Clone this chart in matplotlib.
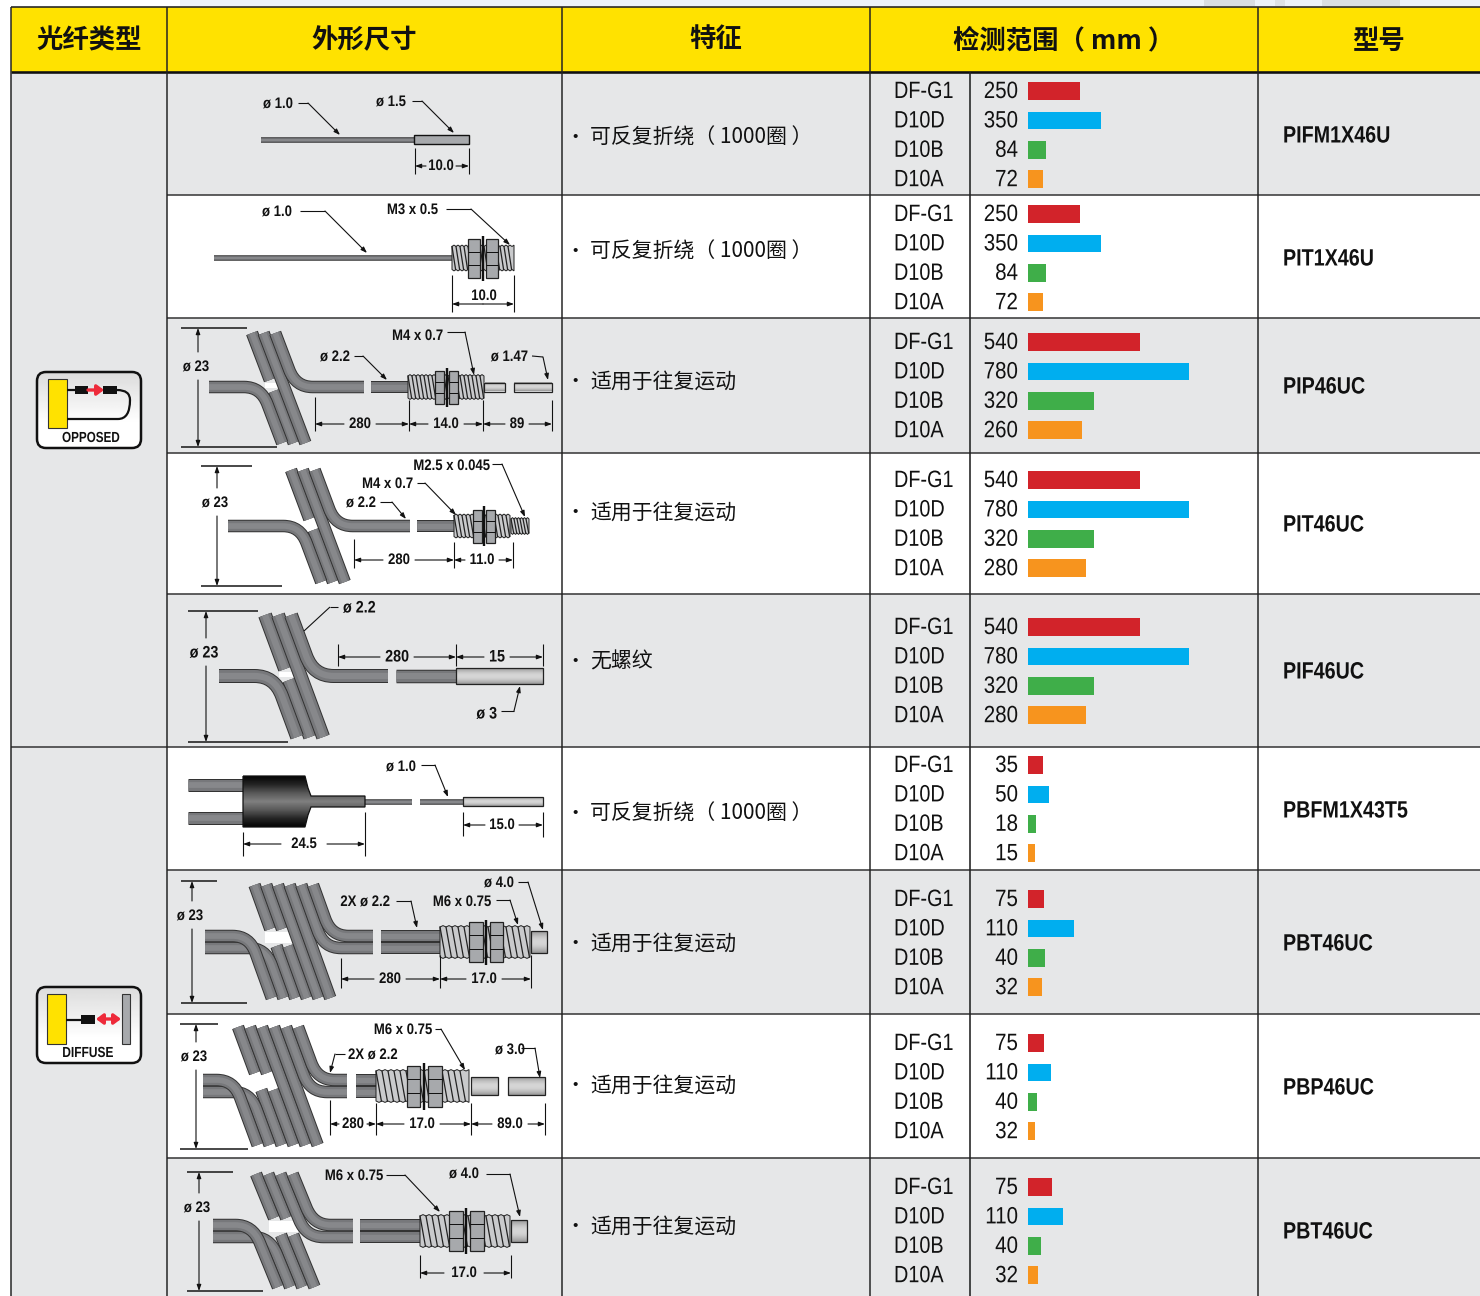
import matplotlib
matplotlib.use("Agg")
import numpy as np
from matplotlib import pyplot as plt
from matplotlib.path import Path
from matplotlib.patches import PathPatch, Rectangle, FancyBboxPatch
from matplotlib.patheffects import AbstractPathEffect
from matplotlib.transforms import Affine2D

LATIN = ['Liberation Sans', 'DejaVu Sans']
CJK = ['Noto Sans CJK SC', 'DejaVu Sans']

# table content
headers = ["光纤类型", "外形尺寸", "特征", "检测范围（ mm ）", "型号"]
lens_names = ["DF-G1", "D10D", "D10B", "D10A"]
bar_colors = ["#D2232A", "#00AEEF", "#3FAE49", "#F7941E"]
features = ["可反复折绕（ 1000圈 ）", "可反复折绕（ 1000圈 ）", "适用于往复运动", "适用于往复运动", "无螺纹",
            "可反复折绕（ 1000圈 ）", "适用于往复运动", "适用于往复运动", "适用于往复运动"]
models = ["PIFM1X46U", "PIT1X46U", "PIP46UC", "PIT46UC", "PIF46UC",
          "PBFM1X43T5", "PBT46UC", "PBP46UC", "PBT46UC"]
ranges = [[250, 350, 84, 72], [250, 350, 84, 72], [540, 780, 320, 260], [540, 780, 320, 280],
          [540, 780, 320, 280], [35, 50, 18, 15], [75, 110, 40, 32], [75, 110, 40, 32], [75, 110, 40, 32]]
# drawn bar lengths, the source scale changes from row to row
bar_lengths = [[52, 73, 18, 15], [52, 73, 18, 15], [112, 161, 66, 54], [112, 161, 66, 58],
               [112, 161, 66, 58], [15, 21, 8, 7], [16, 46, 17, 14], [16, 23, 9, 7], [24, 35, 13, 10]]

# layout, pixels
col_x = [10.5, 167, 562, 870, 970, 1258]
row_y = [72, 195, 318, 453, 594, 747, 870, 1014, 1158, 1296]
first_label_y = [91, 214, 342, 480, 627, 765, 899, 1043, 1187]
feature_y = [137, 251, 381, 512, 661, 813, 943, 1085, 1226]
model_y = [135, 258, 386, 524, 671, 810, 943, 1087, 1231]
GRAY = "#E6E7E8"
LINE = "#3c3c3c"

fig = plt.figure(figsize=(14.8, 12.96), dpi=100)
ax = fig.add_axes([0, 0, 1, 1])
ax.set_xlim(0, 1480)
ax.set_ylim(1296, 0)
ax.axis("off")


class Squeeze(AbstractPathEffect):
    # no narrow sans is installed, so the glyphs get pressed together around the anchor
    def __init__(self, x, sx):
        super().__init__()
        self.x = x
        self.sx = sx

    def draw_path(self, renderer, gc, tpath, affine, rgbFace=None):
        t = affine + Affine2D().translate(-self.x, 0).scale(self.sx, 1).translate(self.x, 0)
        renderer.draw_path(gc, tpath, t, rgbFace)


def txt(x, y, s, size=11, ha="center", bold=True, sx=0.86):
    t = ax.text(x, y + 1, s, fontsize=size, ha=ha, va="center", family=LATIN,
                fontweight="bold" if bold else "normal", color="#111111", zorder=20)
    t.set_path_effects([Squeeze(x, sx)])
    return t


def line(xs, ys, lw=1.1, color="#111111", z=15, **kw):
    ax.plot(xs, ys, color=color, lw=lw * 0.72, zorder=z, solid_capstyle="butt", **kw)


def arrow(x0, y0, x1, y1):
    ax.annotate("", xy=(x1, y1), xytext=(x0, y0), zorder=16,
                arrowprops=dict(arrowstyle="-|>,head_width=0.16,head_length=0.45", color="#111111",
                                lw=0.8, shrinkA=0, shrinkB=0, mutation_scale=8))


def leader(xs, ys):
    line(xs[:-1], ys[:-1])
    arrow(xs[-2], ys[-2], xs[-1], ys[-1])


def dim_h(x0, x1, y, s, cx=None, gap=15, size=11):
    cx = (x0 + x1) / 2 if cx is None else cx
    arrow(cx - gap, y, x0, y)
    arrow(cx + gap, y, x1, y)
    txt(cx, y - 1, s, size=size)


def ticks(xs, y0, y1):
    for x in xs:
        line([x, x], [y0, y1])


def dim_v(x, y0, y1, xa, xb, s, ty, size=11):
    line([xa, xb], [y0, y0], lw=1.5)
    line([xa, xb + 30], [y1, y1], lw=1.5)
    arrow(x, ty - 14, x, y0)
    arrow(x, ty + 14, x, y1)
    txt(x - 2, ty, s, size=size)


def stroke(verts, codes, w, colors=("#333333", "#77787b", "#87888b"), round_ends=()):
    p = Path(verts, codes)
    widths = (w, w - 2, w * 0.45)
    for c, lw in zip(colors, widths):
        ax.add_patch(PathPatch(p, fill=False, ec=c, lw=lw * 0.72, capstyle="butt", joinstyle="round", zorder=5))
        for e in round_ends:
            ax.plot([e[0], e[0] + 0.01], [e[1], e[1]], color=c, lw=lw * 0.72, solid_capstyle="round", zorder=5)


def seg(x0, y0, x1, y1, w, **kw):
    stroke([(x0, y0), (x1, y1)], [Path.MOVETO, Path.LINETO], w, **kw)


def coil(x_top, y_top, y_bot, n, pitch, slope, cables, x_left, x_right, w=12.5, bend=17):
    # slanted wound part of a fibre cable, k strands bend off to each side
    k = len(cables)

    def lx(i, y):
        return x_top + i * pitch + slope * (y - y_top)

    g0 = cables[0] - 4
    g1 = cables[0] + (1 if k == 1 else 7)
    xa = lx(0, g0) - w / 2
    xb = lx(k - 1, g1) + w / 2
    ax.add_patch(Rectangle((xa, g0), xb - xa, g1 - g0, fc="white", ec="none", zorder=4))
    for i in range(n - k):
        if i < k:
            ya, yb = g0 - 3, g1 + 3
            seg(lx(i, y_top), y_top, lx(i, ya), ya, w, round_ends=[(lx(i, y_top), y_top), (lx(i, ya), ya)])
            seg(lx(i, yb), yb, lx(i, y_bot), y_bot, w, round_ends=[(lx(i, yb), yb), (lx(i, y_bot), y_bot)])
        else:
            seg(lx(i, y_top), y_top, lx(i, y_bot), y_bot, w, round_ends=[(lx(i, y_top), y_top), (lx(i, y_bot), y_bot)])
    codes = [Path.MOVETO, Path.LINETO, Path.CURVE3, Path.CURVE3, Path.LINETO]
    for j, yc in enumerate(reversed(cables)):
        # strands coming from the left cable
        i = -(j + 1)
        corner = (lx(i, yc), yc)
        v = [(x_left, yc), (corner[0] - bend, yc), corner, (lx(i, yc + bend), yc + bend), (lx(i, y_bot), y_bot)]
        stroke(v, codes, w, round_ends=[(lx(i, y_bot), y_bot)])
    for j, yc in enumerate(reversed(cables)):
        i = n - k + j
        corner = (lx(i, yc), yc)
        v = [(lx(i, y_top), y_top), (lx(i, yc - bend), yc - bend), corner, (corner[0] + bend, yc), (x_right, yc)]
        stroke(v, codes, w, round_ends=[(lx(i, y_top), y_top)])


def cable(x0, x1, ys, w=12):
    for y in ys:
        seg(x0, y, x1, y, w)


def tube(x0, x1, y, h):
    # plain metal sleeve with a dark edge
    yy = np.linspace(0, 1, 24)[:, None]
    grad = 0.6 + 0.24 * np.sin(yy * np.pi)
    ax.imshow(grad, extent=(x0, x1, y + h / 2, y - h / 2), cmap="gray", vmin=0, vmax=1, aspect="auto", zorder=7)
    ax.add_patch(Rectangle((x0, y - h / 2), x1 - x0, h, fc="none", ec="#222222", lw=0.9, zorder=8))


def thread(x0, x1, y, h, step=5.0):
    xs = np.arange(x0, x1 + 0.1, step)
    half = np.arange(x0, x1 + 0.1, step / 2)
    top = [(x, y - h / 2 - (1.4 if i % 2 else 0)) for i, x in enumerate(half)]
    bot = [(x, y + h / 2 + (1.4 if i % 2 else 0)) for i, x in enumerate(half)]
    ax.fill([p[0] for p in top] + [p[0] for p in reversed(bot)], [p[1] for p in top] + [p[1] for p in reversed(bot)],
            fc="#C9CACC", ec="#222222", lw=0.7, zorder=7)
    for x in xs[:-1]:
        ax.plot([x, x + step * 0.9], [y - h / 2, y + h / 2], color="#222222", lw=0.9, zorder=8)


def nut(x0, x1, y, h):
    ax.add_patch(Rectangle((x0, y - h / 2), x1 - x0, h, fc="#A7A9AC", ec="#222222", lw=0.9, zorder=9))
    line([x0, x1], [y - h / 6, y - h / 6], lw=1, z=10)
    line([x0, x1], [y + h / 6, y + h / 6], lw=1, z=10)


def washer(x, y, h):
    line([x, x], [y - h / 2, y + h / 2], lw=2.4, z=11)


def fitting(xs, y, th, nh, wh, step=5.0):
    # xs: thread start, nut1 start, nut1 end, nut2 start, nut2 end, thread end
    thread(xs[0], xs[5], y, th, step)
    nut(xs[1], xs[2], y, nh)
    nut(xs[3], xs[4], y, nh)
    washer((xs[2] + xs[3]) / 2, y, wh)


def vgrad(x0, x1, y0, y1, vals, clip=None, cmap="gray", z=6):
    g = np.interp(np.linspace(0, 1, 64), np.linspace(0, 1, len(vals)), vals)[:, None]
    im = ax.imshow(g, extent=(x0, x1, y1, y0), cmap=cmap, vmin=0, vmax=1, aspect="auto", zorder=z)
    if clip is not None:
        im.set_clip_path(clip)


# ---- table background
for s_x, s_w, s_c in [(180, 1300, "#EDF3F8"), (1204, 51, "#D9DEE2"), (1275, 10, "#DEE3E6"), (1322, 78, "#DADFE3")]:
    ax.add_patch(Rectangle((s_x, 0), s_w, 6, fc=s_c, ec="none", zorder=0))
ax.add_patch(Rectangle((col_x[0], 7), 1480 - col_x[0], 65, fc="#FFE200", ec="none", zorder=1))
for i in range(9):
    ax.add_patch(Rectangle((col_x[1], row_y[i]), 1480 - col_x[1], row_y[i + 1] - row_y[i],
                           fc=GRAY if i % 2 == 0 else "white", ec="none", zorder=1))
ax.add_patch(Rectangle((col_x[0], 72), col_x[1] - col_x[0], 1224, fc=GRAY, ec="none", zorder=1))
for y in row_y[1:-1]:
    line([col_x[1], 1480], [y, y], lw=1.6, color=LINE, z=3)
line([col_x[0], col_x[1]], [747, 747], lw=1.6, color=LINE, z=3)
line([col_x[0], 1480], [7, 7], lw=1.6, color="#222222", z=3)
line([col_x[0], 1480], [72, 72], lw=2.6, color="#111111", z=3)
for x in col_x:
    if x == 970:
        line([x, x], [72, 1296], lw=1.6, color="#222222", z=3)
    else:
        line([x, x], [7, 1296], lw=1.5, color="#222222", z=3)

header_x = [89, 364, 716, 1064, 1378]
header_y = [41, 41, 39, 41, 41]
for hx, hy, s in zip(header_x, header_y, headers):
    ax.text(hx, hy, s, fontsize=19, ha="center", va="center", family=CJK, fontweight="black", color="#111111", zorder=20)

# ---- range bars and texts
bar_pitch = 29.4
for r in range(9):
    ys = [first_label_y[r] + bar_pitch * j for j in range(4)]
    ax.barh(ys, bar_lengths[r], left=1028, height=17.5, color=bar_colors, zorder=4)
    for j in range(4):
        txt(894, ys[j], lens_names[j], size=17, ha="left", bold=False, sx=0.84)
        txt(1018, ys[j], str(ranges[r][j]), size=17, ha="right", bold=False, sx=0.87)
    txt(1283, model_y[r], models[r], size=17, ha="left", sx=0.835)
    ax.text(575, feature_y[r], "•", fontsize=11, ha="center", va="center", family=LATIN, color="#111111", zorder=20)
    ax.text(590, feature_y[r] + 1, features[r], fontsize=15, ha="left", va="center", family=CJK, color="#111111", zorder=20)

# ---- row 0
txt(293, 103, "ø 1.0", ha="right")
leader([298, 308, 340], [103, 103, 135])
txt(406, 101, "ø 1.5", ha="right")
leader([412, 422, 454], [101, 101, 133])
seg(261, 140, 415, 140, 5.5)
ax.add_patch(Rectangle((414, 135), 55, 9, fc="#A7A9AC", ec="#111111", lw=1, zorder=8))
ticks([415, 469], 148, 174)
dim_h(415, 469, 166, "10.0", cx=441, gap=15)

# ---- row 1
txt(292, 211, "ø 1.0", ha="right")
leader([300, 325, 367], [211, 211, 253])
txt(438, 209, "M3 x 0.5", ha="right")
leader([446, 471, 510], [209, 209, 245])
seg(214, 258, 452, 258, 5.5)
fitting([452, 468, 480, 486, 498, 515], 258, 23, 39, 45, step=4)
ticks([452, 514], 275, 312)
arrow(483, 304, 452, 304)
arrow(483, 304, 514, 304)
txt(484, 295, "10.0")

# ---- row 2
dim_v(198, 328, 447, 181, 247, "ø 23", 366)
coil(252, 333, 443, 3, 11.6, 0.38, [387], 209, 364)
cable(371, 408, [387])
fitting([408, 435, 444, 449, 458, 484], 387, 22, 33, 39, step=4)
tube(484, 505, 387, 9)
tube(514, 552, 387, 9)
txt(443, 335, "M4 x 0.7", ha="right")
leader([447, 465, 474], [332, 332, 375])
txt(350, 356, "ø 2.2", ha="right")
leader([354, 363, 387], [356, 356, 380])
txt(528, 356, "ø 1.47", ha="right")
leader([532, 543, 548], [356, 357, 380])
ticks([315], 397, 431)
ticks([409, 483, 552], 400, 431)
dim_h(315, 409, 424, "280", cx=360, gap=16)
dim_h(409, 483, 424, "14.0", cx=446, gap=18)
dim_h(483, 552, 424, "89", cx=517, gap=12)

# ---- row 3
dim_v(217, 466, 586, 201, 252, "ø 23", 502)
coil(291, 470, 582, 3, 11.8, 0.375, [526], 228, 410)
cable(417, 454, [526])
thread(454, 511, 526, 21, step=4)
thread(511, 529, 526, 14, step=3)
nut(473, 482, 526, 33)
nut(486, 495, 526, 33)
washer(484, 526, 40)
txt(490, 465, "M2.5 x 0.045", ha="right")
leader([492, 502, 525], [464, 464, 517])
txt(413, 483, "M4 x 0.7", ha="right")
leader([417, 425, 456], [483, 483, 515])
txt(376, 502, "ø 2.2", ha="right")
leader([380, 392, 406], [502, 502, 519])
ticks([354], 539, 568)
ticks([454, 513], 542, 568)
dim_h(354, 454, 560, "280", cx=399, gap=16)
dim_h(454, 513, 560, "11.0", cx=482, gap=17)

# ---- row 4
dim_v(206, 611, 742, 188, 258, "ø 23", 652, size=12)
coil(265, 615, 737, 3, 13, 0.37, [676], 219, 388, w=14, bend=20)
cable(396, 456, [676], w=13.5)
tube(456, 543, 676, 16)
txt(343, 607, "ø 2.2", ha="left", size=12)
line([338, 330], [607, 607])
line([330, 304], [607, 631])
ticks([338, 456, 543], 644, 666)
dim_h(338, 456, 657, "280", cx=397, gap=17, size=12)
dim_h(456, 543, 657, "15", cx=497, gap=13, size=12)
txt(497, 713, "ø 3", ha="right", size=12)
leader([501, 514, 520], [711, 711, 686])

# ---- row 5
cable(188, 244, [784.5, 817.5], w=13)
boot = Path([(243, 776), (300, 776), (305, 776), (308, 788), (311, 796), (316, 796), (365, 796), (365, 807),
             (316, 807), (311, 807), (308, 815), (305, 827), (300, 827), (243, 827), (243, 776)])
bp = PathPatch(boot, fc="none", ec="#111111", lw=0.9, zorder=7)
ax.add_patch(bp)
vgrad(243, 365, 776, 827, [0.02, 0.15, 0.35, 0.5, 0.35, 0.15, 0.02], clip=bp)
seg(365, 801.5, 412, 801.5, 5.5)
seg(420, 801.5, 463, 801.5, 5.5)
tube(463, 543, 801.5, 9)
txt(416, 766, "ø 1.0", ha="right")
leader([421, 435, 448], [765, 765, 797])
ticks([243], 832, 856)
ticks([365], 812, 856)
dim_h(243, 365, 844, "24.5", gap=23)
ticks([463], 812, 836)
ticks([543], 812, 837)
dim_h(463, 543, 825, "15.0", cx=502, gap=17)

# ---- row 6
dim_v(192, 881, 1003, 181, 217, "ø 23", 915)
coil(254.5, 885, 998, 6, 11.7, 0.36, [936, 948], 205, 373)
cable(381, 440, [936, 948])
fitting([440, 469, 482.5, 490, 503, 531], 942, 30, 40, 45, step=6)
tube(531, 547, 942, 22)
txt(514, 882, "ø 4.0", ha="right")
leader([518, 528, 543], [882, 882, 930])
txt(491, 901, "M6 x 0.75", ha="right")
leader([496, 510, 518], [900, 900, 925])
txt(390, 901, "2X ø 2.2", ha="right")
leader([396, 411, 417], [901, 901, 928])
ticks([341], 958, 988)
ticks([440, 531], 955, 988)
dim_h(341, 440, 979, "280", cx=390, gap=16)
dim_h(440, 531, 979, "17.0", cx=484, gap=18)

# ---- row 7
dim_v(196, 1024, 1149, 180, 218, "ø 23", 1056)
coil(238, 1027, 1145, 6, 12, 0.37, [1080, 1092], 203, 347)
cable(356, 376, [1080, 1092])
fitting([376, 406.5, 420, 428, 442, 471], 1086, 30, 41, 47, step=6)
tube(471, 498, 1086, 18)
tube(508, 545, 1086, 18)
txt(432, 1029, "M6 x 0.75", ha="right")
leader([435, 441, 465], [1029, 1029, 1070])
txt(348, 1054, "2X ø 2.2", ha="left")
leader([345, 335, 330], [1054, 1054, 1073])
txt(525, 1049, "ø 3.0", ha="right")
leader([521, 535, 540], [1048, 1048, 1078])
ticks([330], 1100, 1135)
ticks([376, 471, 545], 1103, 1135)
dim_h(330, 376, 1124, "280", cx=353, gap=14)
dim_h(376, 471, 1124, "17.0", cx=422, gap=18)
dim_h(471, 545, 1124, "89.0", cx=510, gap=18)

# ---- row 8
dim_v(199, 1172, 1291, 187, 233, "ø 23", 1207)
coil(256, 1174, 1287, 4, 12.2, 0.41, [1225, 1237], 213, 353)
cable(360, 420, [1225, 1237])
fitting([420, 449, 462.5, 470, 484, 511], 1231, 30, 40, 46, step=6)
tube(511, 527, 1231, 22)
txt(383, 1175, "M6 x 0.75", ha="right")
leader([386, 405, 440], [1175, 1175, 1212])
txt(479, 1173, "ø 4.0", ha="right")
leader([486, 510, 520], [1174, 1174, 1217])
ticks([420, 511], 1255, 1278)
dim_h(420, 511, 1273, "17.0", cx=464, gap=20)


# ---- sensing mode icons
def icon_box(y0, y1):
    box = FancyBboxPatch((37, y0 + 1), 104, y1 - y0 - 2, boxstyle="round,pad=0,rounding_size=9",
                         fc="none", ec="#111111", lw=1.8, zorder=9)
    ax.add_patch(box)
    vgrad(37, 141, y0, y1, [0.86, 0.93, 1.0, 1.0], clip=box, z=8)


icon_box(371, 449)
ax.add_patch(Rectangle((48, 379), 19, 49, fc="#FFE200", ec="#333333", lw=0.8, zorder=10))
line([67, 76], [390, 390], lw=2.2, z=10)
ax.add_patch(Rectangle((75, 386), 13, 8, fc="#111111", ec="none", zorder=10))
ax.add_patch(Rectangle((103, 386), 14, 8, fc="#111111", ec="none", zorder=10))
ax.annotate("", xy=(104, 390), xytext=(88, 390), zorder=10,
            arrowprops=dict(arrowstyle="-|>,head_width=0.3,head_length=0.4", color="#EE2A3A", lw=2.4, shrinkA=0, shrinkB=0, mutation_scale=10))
wire = Path([(117, 390), (130, 390), (130, 400), (130, 419), (118, 419), (67, 419)],
            [Path.MOVETO, Path.CURVE3, Path.CURVE3, Path.CURVE3, Path.CURVE3, Path.LINETO])
ax.add_patch(PathPatch(wire, fill=False, ec="#111111", lw=1.6, zorder=10))
txt(91, 437, "OPPOSED", size=10.5, sx=0.8)

icon_box(986, 1064)
ax.add_patch(Rectangle((47, 994), 19, 50, fc="#FFE200", ec="#333333", lw=0.8, zorder=10))
line([66, 82], [1020, 1020], lw=2.2, z=10)
ax.add_patch(Rectangle((81, 1015), 14, 9, fc="#111111", ec="none", zorder=10))
ax.add_patch(Rectangle((122, 994), 8, 50, fc="#A7A9AC", ec="#333333", lw=0.8, zorder=10))
ax.annotate("", xy=(121, 1019), xytext=(96, 1019), zorder=10,
            arrowprops=dict(arrowstyle="<|-|>,head_width=0.3,head_length=0.4", color="#EE2A3A", lw=2.4, shrinkA=0, shrinkB=0, mutation_scale=10))
txt(88, 1052, "DIFFUSE", size=10.5, sx=0.82)

ax.set_xlim(0, 1480)
ax.set_ylim(1296, 0)
fig.savefig("out.png", dpi=100)
